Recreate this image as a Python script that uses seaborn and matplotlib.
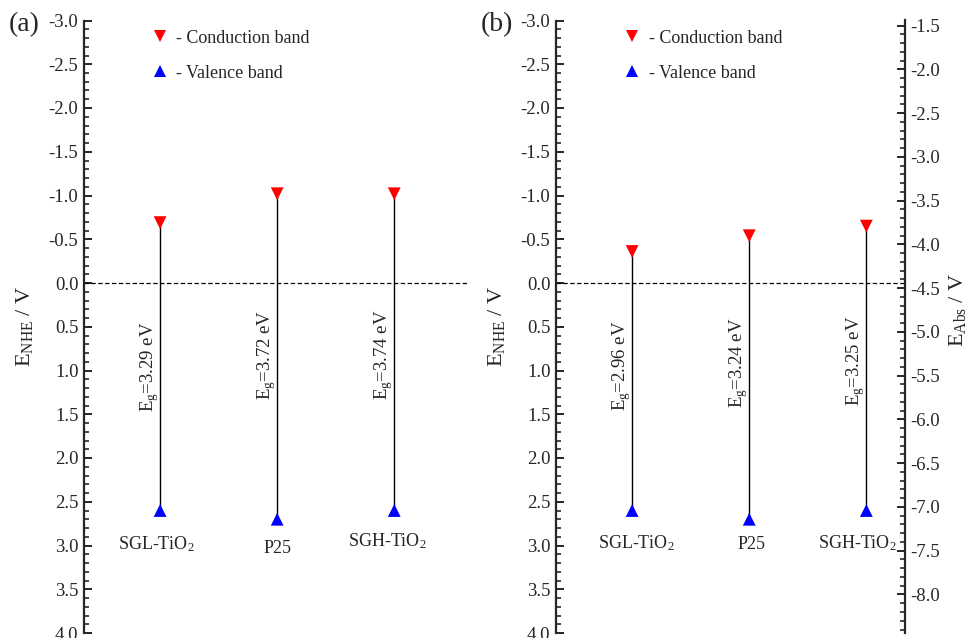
import matplotlib
matplotlib.use("Agg")
import matplotlib.pyplot as plt
import numpy as np
import pandas as pd
import seaborn as sns
from matplotlib.lines import Line2D
from matplotlib.ticker import MultipleLocator, FixedLocator, FormatStrFormatter

# ---- data -------------------------------------------------------------
samples = ["SGL-TiO$_2$", "P25", "SGH-TiO$_2$"]

# panel (a): band edges vs NHE (V)
cb_a = [-0.69, -1.02, -1.02]
vb_a = [2.60, 2.70, 2.60]
eg_a = ["3.29", "3.72", "3.74"]

# panel (b): band edges vs NHE (V)
cb_b = [-0.36, -0.54, -0.65]
vb_b = [2.60, 2.70, 2.60]
eg_b = ["2.96", "3.24", "3.25"]

# absolute (vacuum) scale: E_Abs = -4.44 - E_NHE
nhe_offset = -4.44
abs_ticks = [-1.5, -2.0, -2.5, -3.0, -3.5, -4.0, -4.5, -5.0, -5.5,
             -6.0, -6.5, -7.0, -7.5, -8.0]

# ---- style ------------------------------------------------------------
sns.set_style("ticks")
plt.rcParams["font.family"] = ["Liberation Serif", "DejaVu Serif"]
plt.rcParams["mathtext.default"] = "regular"
plt.rcParams["axes.unicode_minus"] = False

W, H = 969, 638
fig = plt.figure(figsize=(W / 100, H / 100), dpi=100)


def rect(left, right, top, bottom):
    return [left / W, 1 - bottom / H, (right - left) / W, (bottom - top) / H]


def style_y(axis_obj):
    axis_obj.set_major_locator(MultipleLocator(0.5))
    axis_obj.set_minor_locator(MultipleLocator(0.1))
    axis_obj.set_major_formatter(FormatStrFormatter("%.1f"))


def draw_panel(ax, cb, vb, eg, xlim, eg_y, name_y, name_dx, legend_x,
               tag, tag_x):
    pos = np.arange(1, len(samples) + 1)
    df = pd.DataFrame({
        "pos": np.concatenate([pos, pos]),
        "E": np.concatenate([cb, vb]),
        "band": ["CB"] * len(cb) + ["VB"] * len(vb),
    })
    # band-gap bars
    ax.vlines(pos, cb, vb, color="black", lw=1.0, zorder=2)
    sns.scatterplot(data=df, x="pos", y="E", hue="band", style="band",
                    palette={"CB": "#ff0000", "VB": "#0000ff"},
                    markers={"CB": "v", "VB": "^"}, s=85, linewidth=0,
                    legend=False, ax=ax, zorder=3)
    ax.axhline(0.0, color="black", lw=0.9, ls=(0, (3.5, 2)), zorder=1)

    for p, g, yy in zip(pos, eg, eg_y):
        ax.text(p - 0.09, yy, "E$_g$=" + g + " eV", rotation=90,
                ha="center", va="center", fontsize=13.5)
    for p, nm, yy, dx in zip(pos, samples, name_y, name_dx):
        ax.text(p + dx, yy, nm, ha="center", va="center", fontsize=13)

    ax.set_xlim(*xlim)
    ax.set_ylim(4.0, -3.0)
    style_y(ax.yaxis)
    ax.set_xticks([])
    ax.set_xlabel("")
    ax.set_ylabel("E$_{NHE}$ / V", fontsize=16, labelpad=10)
    for s in ("top", "right", "bottom"):
        ax.spines[s].set_visible(False)
    ax.spines["left"].set_linewidth(1.6)
    ax.tick_params(axis="y", which="major", direction="in", length=6,
                   width=1.4, labelsize=13.5, pad=4)
    ax.tick_params(axis="y", which="minor", direction="in", length=3.5,
                   width=1.2)

    handles = [
        Line2D([], [], marker="v", color="#ff0000", ls="none", ms=9, mew=0),
        Line2D([], [], marker="^", color="#0000ff", ls="none", ms=9, mew=0),
    ]
    ax.legend(handles, ["- Conduction band", "- Valence band"],
              loc="upper left", bbox_to_anchor=(legend_x, 0.985),
              frameon=False, fontsize=13, handlelength=1.0,
              handletextpad=0.4, labelspacing=1.0, borderpad=0,
              borderaxespad=0)
    ax.text(tag_x, 0.993, tag, transform=ax.transAxes, fontsize=20,
            ha="center", va="center")


ax_a = fig.add_axes(rect(84, 468, 20.5, 633))
ax_b = fig.add_axes(rect(556, 905, 20.5, 633))

draw_panel(ax_a, cb_a, vb_a, eg_a, (0.35, 3.63),
           eg_y=[0.96, 0.82, 0.82], name_y=[2.99, 3.03, 2.95],
           name_dx=[-0.03, 0.0, -0.06], legend_x=0.174,
           tag="(a)", tag_x=-0.155)
draw_panel(ax_b, cb_b, vb_b, eg_b, (0.35, 3.33),
           eg_y=[0.95, 0.91, 0.89], name_y=[2.97, 2.99, 2.97],
           name_dx=[0.04, 0.02, -0.08], legend_x=0.193,
           tag="(b)", tag_x=-0.168)

# absolute energy scale on the right of panel (b)
sec = ax_b.secondary_yaxis("right", functions=(lambda y: nhe_offset - y,
                                               lambda y: nhe_offset - y))
sec.yaxis.set_major_locator(FixedLocator(abs_ticks))
sec.yaxis.set_minor_locator(MultipleLocator(0.1))
sec.yaxis.set_major_formatter(FormatStrFormatter("%.1f"))
sec.spines["right"].set_linewidth(1.6)
sec.tick_params(axis="y", which="major", direction="in", length=6,
                width=1.4, labelsize=13.5, pad=4)
sec.tick_params(axis="y", which="minor", direction="in", length=3.5,
                width=1.2)
sec.set_ylabel("E$_{Abs}$ / V", fontsize=16, labelpad=5, y=0.527)

fig.savefig("out.png", dpi=100)
